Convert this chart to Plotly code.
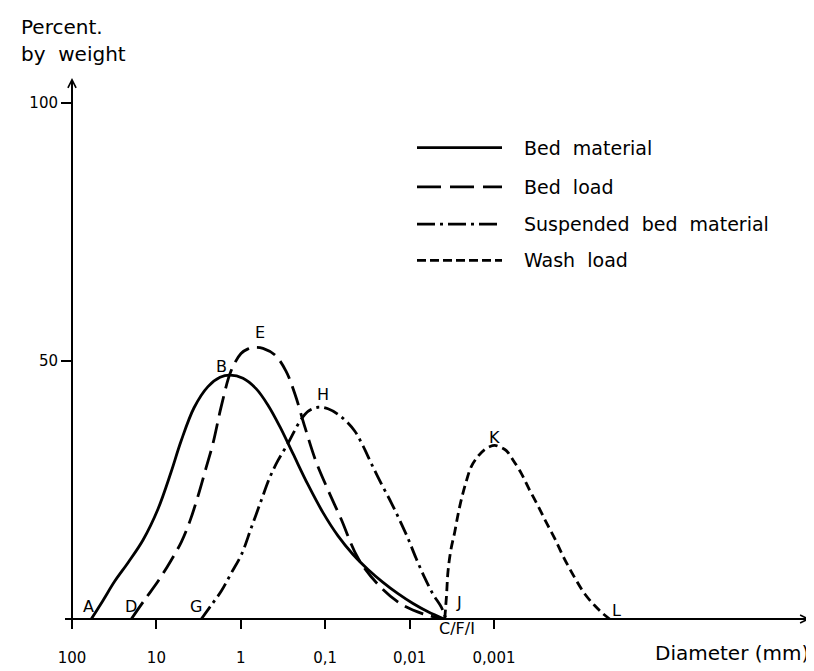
import math
import plotly.graph_objects as go

# ---- data (diameter in mm, percent by weight) ----
bed_material_d = [59.1, 42.9, 31.2, 21.7, 14.4, 9.57, 6.71, 5.11, 3.58, 2.45, 1.76, 1.34, 0.942, 0.660, 0.476,
                  0.343, 0.2407, 0.1599, 0.1062, 0.0705, 0.0468, 0.0311, 0.02066, 0.01372, 0.00911, 0.00605, 0.00391]
bed_material_p = [0, 3.6, 7.3, 10.9, 15.3, 21.3, 28.4, 34.4, 40.9, 45.0, 46.8, 47.2, 46.6, 44.6, 41.4,
                  37.2, 32.0, 26.0, 20.6, 16.1, 12.5, 9.6, 7.1, 4.9, 3.0, 1.4, 0]

bed_load_d = [19.83, 13.65, 9.57, 6.90, 5.07, 4.00, 3.215, 2.585, 2.135, 1.702, 1.306, 0.9945, 0.822, 0.679,
              0.546, 0.3934, 0.2914, 0.2279, 0.1735, 0.1285, 0.0927, 0.0650, 0.0409, 0.02368, 0.01264, 0.00694, 0.00391]
bed_load_p = [0, 3.8, 7.3, 11.0, 14.9, 19.0, 23.8, 29.2, 34.0, 41.2, 48.0, 51.4, 52.3, 52.6,
              52.4, 51.1, 48.0, 43.5, 37.1, 30.5, 25.0, 19.4, 11.8, 6.7, 2.9, 1.0, 0]

susp_d = [2.938, 2.255, 1.702, 1.306, 0.9865, 0.757, 0.5716, 0.4508, 0.3624, 0.2759, 0.1989, 0.1599, 0.1217,
          0.0927, 0.0650, 0.0447, 0.03565, 0.02843, 0.02182, 0.01647, 0.01299, 0.01045, 0.0084, 0.00663,
          0.00528, 0.00421, 0.00370]
susp_p = [0, 2.6, 5.4, 8.8, 12.4, 17.5, 23.0, 27.5, 30.7, 34.0, 38.3, 40.2, 41.0,
          40.7, 39.2, 36.4, 33.5, 30.1, 26.3, 22.5, 19.0, 15.6, 11.8, 8.0,
          4.8, 2.3, 0]

wash_d = [0.003837, 0.003654, 0.003508, 0.003233, 0.002922, 0.002670, 0.002440, 0.002146, 0.001858, 0.001547,
          0.001289, 0.001115, 0.000981, 0.000849, 0.000715, 0.000596, 0.000475, 0.000385, 0.000301, 0.000242,
          0.000191, 0.000148, 0.0001106, 0.0000835, 0.0000641, 0.0000525, 0.0000426]
wash_p = [0, 4.5, 9.2, 13.5, 16.8, 20.2, 23.1, 26.5, 29.5, 31.5,
          32.8, 33.4, 33.6, 33.3, 32.6, 30.8, 28.2, 25.2, 21.9, 18.8,
          15.6, 11.8, 8.0, 4.8, 2.6, 1.2, 0]

series_names = ["Bed material", "Bed load", "Suspended bed material", "Wash load"]

x_tickvals = [100, 10, 1, 0.1, 0.01, 0.001]
x_ticktext = ["100", "10", "1", "0,1", "0,01", "0,001"]
y_tickvals = [50, 100]
y_ticktext = ["50", "100"]

point_labels = ["A", "B", "C/F/I", "D", "E", "G", "H", "J", "K", "L"]
point_label_d = [62.9, 1.70, 0.00274, 20.0, 0.597, 3.40, 0.106, 0.0026, 0.001, 0.0000349]
point_label_p = [2.5, 48.8, 0, 2.5, 55.4, 2.5, 43.4, 3.2, 35.2, 1.7]
point_label_yshift = [0, 0, -9, 0, 0, 0, 0, 0, 0, 0]

# ---- style ----
FONT = "DejaVu Sans"
W, H = 814, 671
L, R, T, B = 64, 12, 70, 49
PW, PH = W - L - R, H - T - B


def px(x):
    return (x - L) / PW


def py(y):
    return (H - B - y) / PH


styles = [
    dict(dash="solid", width=2.8),
    dict(dash="20px,8px", width=2.8),
    dict(dash="15px,5px,3px,5px", width=2.8),
    dict(dash="9px,5px", width=2.8),
]
legend_dash = ["solid", "24px,9px", "18px,5px,3px,5px", "9px,4px"]

fig = go.Figure()
for (xs, ys), name, st in zip(
        [(bed_material_d, bed_material_p), (bed_load_d, bed_load_p), (susp_d, susp_p), (wash_d, wash_p)],
        series_names, styles):
    fig.add_trace(go.Scatter(
        x=xs, y=ys, mode="lines", name=name, showlegend=False,
        line=dict(color="black", width=st["width"], dash=st["dash"], shape="spline", smoothing=1.0),
        cliponaxis=False,
    ))

annotations = []
for t, d, p, ys in zip(point_labels, point_label_d, point_label_p, point_label_yshift):
    annotations.append(dict(x=math.log10(d), y=p, xref="x", yref="y", text=t, showarrow=False, yshift=ys,
                            font=dict(family=FONT, size=16, color="black")))

# legend drawn manually
shapes = []
leg_y = [141, 181, 219, 256]
for name, st, dsh, yy in zip(series_names, styles, legend_dash, leg_y):
    shapes.append(dict(type="line", xref="paper", yref="paper", x0=px(409), x1=px(494), y0=py(yy), y1=py(yy),
                       line=dict(color="black", width=st["width"], dash=dsh)))
    annotations.append(dict(x=px(514), y=py(yy), xref="paper", yref="paper", xanchor="left", yanchor="middle",
                            text=name.replace(" ", "&nbsp;&nbsp;"), showarrow=False,
                            font=dict(family=FONT, size=19, color="black")))

# axes lines
shapes.append(dict(type="line", xref="paper", yref="paper", x0=px(57), x1=px(800), y0=0, y1=0,
                   line=dict(color="black", width=2)))
shapes.append(dict(type="line", xref="paper", yref="paper", x0=0, x1=0, y0=py(630), y1=py(72),
                   line=dict(color="black", width=2)))
# arrowheads
annotations.append(dict(x=px(802), y=0, xref="paper", yref="paper", ax=-12, ay=0, text="", showarrow=True,
                        arrowhead=5, arrowsize=0.8, arrowwidth=2, arrowcolor="black"))
annotations.append(dict(x=0, y=py(70), xref="paper", yref="paper", ax=0, ay=12, text="", showarrow=True,
                        arrowhead=5, arrowsize=0.8, arrowwidth=2, arrowcolor="black"))

# titles
annotations.append(dict(x=px(11), y=py(18), xref="paper", yref="paper", xanchor="left", yanchor="middle",
                        text="Percent.", showarrow=False, font=dict(family=FONT, size=20, color="black")))
annotations.append(dict(x=px(11), y=py(46), xref="paper", yref="paper", xanchor="left", yanchor="middle",
                        text="by&nbsp;&nbsp;weight", showarrow=False, font=dict(family=FONT, size=20, color="black")))
annotations.append(dict(x=px(803), y=py(657), xref="paper", yref="paper", xanchor="right", yanchor="middle",
                        text="Diameter (mm)", showarrow=False, font=dict(family=FONT, size=20, color="black")))

fig.update_layout(
    width=W, height=H, margin=dict(l=L, r=R, t=T, b=B),
    paper_bgcolor="white", plot_bgcolor="white",
    xaxis=dict(type="log", range=[2, 2 - (W - L - R) / 84.4], tickvals=x_tickvals, ticktext=x_ticktext,
               ticks="outside", ticklen=9, tickwidth=1.5, tickcolor="black",
               ticklabelstandoff=16, showgrid=False, zeroline=False, showline=False,
               tickfont=dict(family=FONT, size=15, color="black")),
    yaxis=dict(range=[0, 552 / 5.27], tickvals=y_tickvals, ticktext=y_ticktext,
               ticks="outside", ticklen=10, tickwidth=1.5, tickcolor="black",
               showgrid=False, zeroline=False, showline=False,
               tickfont=dict(family=FONT, size=15, color="black")),
    shapes=shapes, annotations=annotations, showlegend=False,
)

fig.write_html("out.html")
